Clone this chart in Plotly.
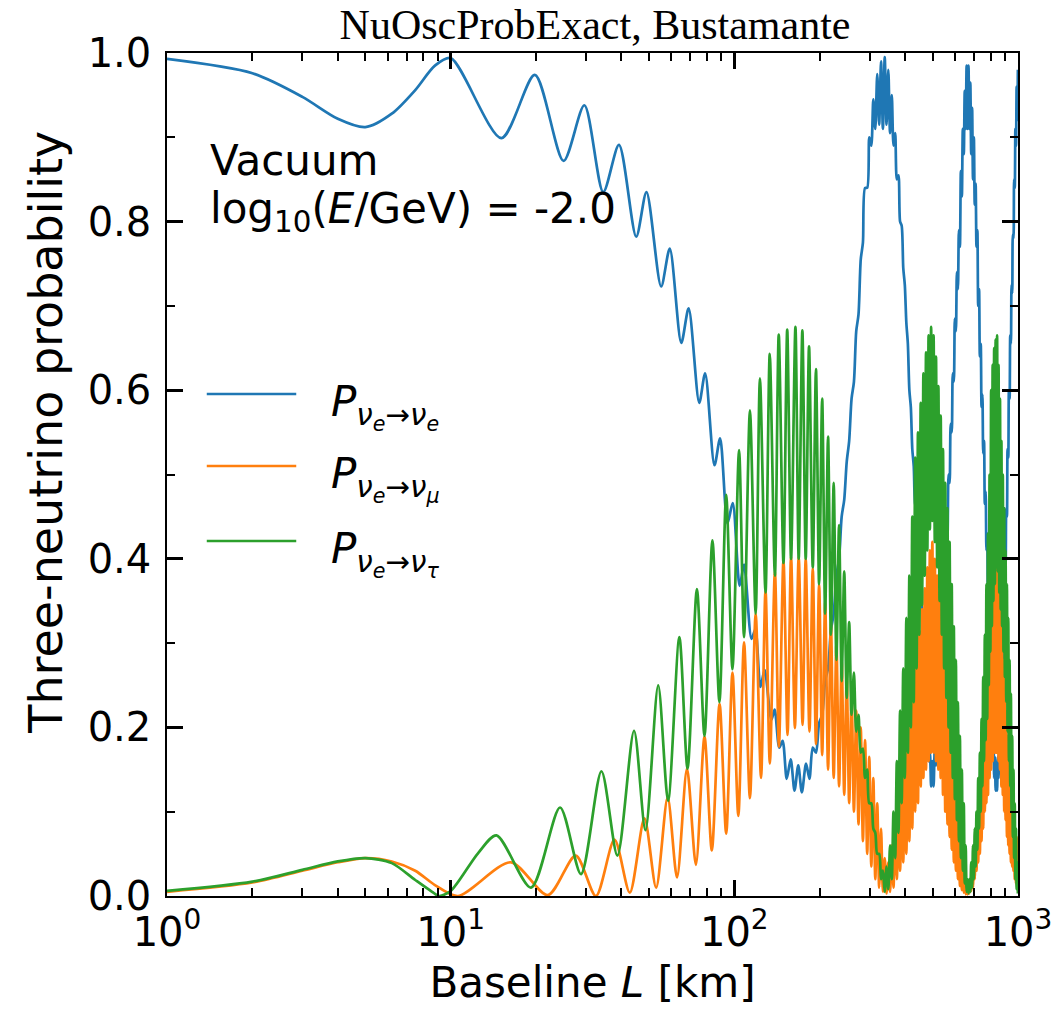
import plotly.graph_objects as go

# ---------------- data ----------------
# Resolved region (individual oscillations visible), baseline L in km
L_ee = [1, 2, 3, 4, 5, 6.2, 7.5, 8.8, 10,
        15.1, 19.8, 25.0, 29.6, 34.5, 39.2, 45.1, 49.0, 55.2, 59.2,
        65.0, 69.0, 75.2, 78.9, 85.1, 89.1, 94.6, 98.7, 104.4, 108.2,
        115, 118.6, 123.6, 127.9, 135, 138.7, 144, 148, 153, 158,
        163, 168, 173, 179, 184]
P_ee = [0.993, 0.976, 0.948, 0.922, 0.912, 0.928, 0.956, 0.985, 0.994,
        0.899, 0.974, 0.872, 0.938, 0.835, 0.891, 0.782, 0.835, 0.723, 0.768,
        0.656, 0.697, 0.585, 0.620, 0.511, 0.543, 0.442, 0.466, 0.368, 0.393,
        0.305, 0.316, 0.248, 0.268, 0.209, 0.221, 0.176, 0.184, 0.139, 0.162,
        0.125, 0.155, 0.123, 0.157, 0.139]

L_emu = [1, 2, 3, 4, 5, 6.2, 7.5, 8.8, 10.6,
         16.3, 22.0, 27.6, 32.5, 37.8, 42.8, 48.2, 53.0, 58.2, 62.8,
         68.1, 73.2, 78.5, 83.3, 88.7, 93.6, 98.5, 103.3, 108.2, 113.5,
         118.9, 124.2, 128.8, 133.4, 139, 143.6, 149, 154, 158.5, 163.5,
         168.6, 174, 178.5, 184]
P_emu = [0.005, 0.016, 0.030, 0.040, 0.045, 0.041, 0.030, 0.013, 0.0,
         0.040, 0.001, 0.048, 0.0, 0.067, 0.004, 0.092, 0.010, 0.117, 0.022,
         0.151, 0.037, 0.189, 0.054, 0.228, 0.074, 0.265, 0.095, 0.301, 0.116,
         0.335, 0.140, 0.363, 0.157, 0.385, 0.177, 0.399, 0.191, 0.403, 0.199,
         0.403, 0.203, 0.401, 0.195]

L_etau = [1, 2, 3, 4, 5, 6.2, 7.5, 8.6, 9.1, 10,
          12.5, 14.5, 19.2, 24.3, 28.8, 34.0, 38.7, 44.3, 48.6, 53.9,
          58.4, 64.0, 68.4, 73.8, 78.5, 83.7, 88.6, 93.6, 98.5, 103.9,
          108.2, 113.5, 118.9, 123.1, 128.8, 133.3, 139, 143.4, 149, 153.6,
          158.5, 164.2, 168.6, 173.7, 178.5, 183.4]
P_etau = [0.006, 0.017, 0.031, 0.041, 0.045, 0.039, 0.019, 0.005, 0.0, 0.006,
          0.051, 0.072, 0.010, 0.105, 0.026, 0.148, 0.048, 0.196, 0.078, 0.250,
          0.113, 0.307, 0.151, 0.364, 0.190, 0.422, 0.230, 0.476, 0.269, 0.529,
          0.307, 0.576, 0.335, 0.614, 0.36, 0.643, 0.38, 0.666, 0.395, 0.672,
          0.40, 0.675, 0.40, 0.671, 0.40, 0.652]

# Dense region: extrema read along the envelopes, two interleaved baselines
L_a = [189, 199, 209, 219, 229, 239, 249, 259, 269, 279,
       289, 299, 309, 319, 329, 339, 349, 359, 369, 379,
       389, 399, 409, 419, 429, 439, 449, 459, 469, 479,
       489, 499, 509, 519, 529, 539, 549, 559, 569, 579,
       589, 599, 609, 619, 629, 639, 649, 659, 669, 679,
       689, 699, 709, 719, 729, 739, 749, 759, 769, 779,
       789, 799, 809, 819, 829, 839, 849, 859, 869, 879,
       889, 899, 909, 919, 929, 939, 949, 959, 969, 979,
       989, 999]
L_b = [194, 204, 214, 224, 234, 244, 254, 264, 274, 284,
       294, 304, 314, 324, 334, 344, 354, 364, 374, 384,
       394, 404, 414, 424, 434, 444, 454, 464, 474, 484,
       494, 504, 514, 524, 534, 544, 554, 564, 574, 584,
       594, 604, 614, 624, 634, 644, 654, 664, 674, 684,
       694, 704, 714, 724, 734, 744, 754, 764, 774, 784,
       794, 804, 814, 824, 834, 844, 854, 864, 874, 884,
       894, 904, 914, 924, 934, 944, 954, 964, 974, 984,
       994]

ee_a = [0.176, 0.205, 0.255, 0.315, 0.38, 0.45, 0.515, 0.59, 0.67, 0.755,
        0.84, 0.90, 0.945, 0.975, 0.99, 0.995, 0.98, 0.95, 0.905, 0.855,
        0.795, 0.725, 0.655, 0.58, 0.51, 0.46, 0.40, 0.34, 0.27, 0.21,
        0.17, 0.16, 0.175, 0.21, 0.26, 0.32, 0.38, 0.44, 0.50, 0.56,
        0.62, 0.685, 0.74, 0.79, 0.86, 0.91, 0.955, 0.985, 0.985, 0.965,
        0.935, 0.90, 0.845, 0.79, 0.72, 0.655, 0.595, 0.54, 0.48, 0.43,
        0.37, 0.31, 0.25, 0.20, 0.165, 0.155, 0.165, 0.19, 0.23, 0.28,
        0.34, 0.40, 0.46, 0.53, 0.60, 0.665, 0.725, 0.785, 0.85, 0.91,
        0.96, 0.98]
ee_b = [0.17, 0.215, 0.27, 0.335, 0.40, 0.47, 0.54, 0.61, 0.69, 0.775,
        0.84, 0.89, 0.91, 0.915, 0.91, 0.915, 0.905, 0.89, 0.85, 0.80,
        0.745, 0.68, 0.60, 0.53, 0.465, 0.41, 0.35, 0.28, 0.21, 0.16,
        0.13, 0.13, 0.155, 0.19, 0.245, 0.305, 0.365, 0.425, 0.49, 0.55,
        0.61, 0.67, 0.72, 0.77, 0.83, 0.88, 0.91, 0.91, 0.91, 0.88,
        0.85, 0.82, 0.77, 0.70, 0.64, 0.58, 0.525, 0.465, 0.41, 0.35,
        0.29, 0.23, 0.18, 0.14, 0.125, 0.125, 0.14, 0.18, 0.22, 0.27,
        0.33, 0.39, 0.45, 0.52, 0.59, 0.655, 0.715, 0.78, 0.84, 0.89,
        0.92]

emu_a = [0.389, 0.37, 0.35, 0.325, 0.30, 0.28, 0.26, 0.24, 0.22, 0.20,
         0.185, 0.165, 0.14, 0.11, 0.08, 0.045, 0.04, 0.06, 0.09, 0.11,
         0.14, 0.17, 0.20, 0.23, 0.26, 0.29, 0.315, 0.34, 0.365, 0.39,
         0.41, 0.42, 0.40, 0.38, 0.36, 0.33, 0.30, 0.27, 0.24, 0.21,
         0.18, 0.16, 0.13, 0.10, 0.08, 0.05, 0.03, 0.01, 0.01, 0.02,
         0.04, 0.06, 0.08, 0.10, 0.13, 0.16, 0.19, 0.22, 0.26, 0.29,
         0.32, 0.35, 0.37, 0.39, 0.40, 0.41, 0.40, 0.37, 0.34, 0.31,
         0.28, 0.25, 0.22, 0.19, 0.16, 0.14, 0.12, 0.10, 0.09, 0.08,
         0.07, 0.06]
emu_b = [0.18, 0.167, 0.15, 0.14, 0.13, 0.12, 0.11, 0.10, 0.085, 0.065,
         0.05, 0.035, 0.02, 0.01, 0.005, 0.003, 0.005, 0.01, 0.02, 0.03,
         0.04, 0.05, 0.065, 0.08, 0.10, 0.11, 0.13, 0.14, 0.15, 0.16,
         0.17, 0.17, 0.16, 0.15, 0.14, 0.12, 0.10, 0.085, 0.07, 0.055,
         0.04, 0.03, 0.02, 0.012, 0.007, 0.004, 0.002, 0.002, 0.003, 0.006,
         0.01, 0.02, 0.03, 0.04, 0.05, 0.065, 0.08, 0.10, 0.11, 0.12,
         0.14, 0.15, 0.16, 0.17, 0.17, 0.17, 0.16, 0.15, 0.13, 0.12,
         0.10, 0.09, 0.07, 0.06, 0.05, 0.04, 0.035, 0.03, 0.02, 0.015,
         0.01]

etau_a = [0.39, 0.37, 0.335, 0.31, 0.28, 0.255, 0.235, 0.215, 0.195, 0.17,
          0.14, 0.11, 0.08, 0.05, 0.02, 0.005, 0.008, 0.02, 0.045, 0.075,
          0.11, 0.14, 0.17, 0.20, 0.23, 0.27, 0.31, 0.345, 0.38, 0.41,
          0.435, 0.445, 0.42, 0.39, 0.35, 0.31, 0.27, 0.235, 0.20, 0.17,
          0.14, 0.115, 0.09, 0.065, 0.045, 0.03, 0.015, 0.005, 0.003, 0.005,
          0.01, 0.02, 0.035, 0.055, 0.08, 0.10, 0.13, 0.16, 0.185, 0.21,
          0.25, 0.29, 0.32, 0.35, 0.37, 0.39, 0.385, 0.36, 0.34, 0.32,
          0.29, 0.26, 0.23, 0.195, 0.16, 0.13, 0.10, 0.07, 0.045, 0.02,
          0.008, 0.003]
etau_b = [0.625, 0.59, 0.545, 0.49, 0.44, 0.385, 0.325, 0.265, 0.215, 0.175,
          0.15, 0.11, 0.075, 0.05, 0.03, 0.035, 0.06, 0.10, 0.16, 0.22,
          0.27, 0.33, 0.38, 0.45, 0.52, 0.55, 0.585, 0.62, 0.645, 0.665,
          0.675, 0.665, 0.64, 0.605, 0.57, 0.53, 0.49, 0.46, 0.42, 0.37,
          0.32, 0.28, 0.23, 0.19, 0.15, 0.11, 0.06, 0.02, 0.02, 0.04,
          0.06, 0.08, 0.10, 0.14, 0.17, 0.21, 0.26, 0.31, 0.37, 0.43,
          0.50, 0.60, 0.63, 0.65, 0.66, 0.665, 0.63, 0.59, 0.54, 0.50,
          0.46, 0.41, 0.37, 0.33, 0.28, 0.24, 0.19, 0.15, 0.11, 0.08,
          0.04]

names = ["ee", "emu", "etau"]
colors = ["#1f77b4", "#ff7f0e", "#2ca02c"]
legend_labels = [
    "<i>P</i><sub><i>ν</i><sub><i>e</i></sub>→<i>ν</i><sub><i>e</i></sub></sub>",
    "<i>P</i><sub><i>ν</i><sub><i>e</i></sub>→<i>ν</i><sub><i>μ</i></sub></sub>",
    "<i>P</i><sub><i>ν</i><sub><i>e</i></sub>→<i>ν</i><sub><i>τ</i></sub></sub>",
]
x_tick_vals = [1, 10, 100, 1000]
x_tick_text = ["10<sup>0</sup>", "10<sup>1</sup>", "10<sup>2</sup>", "10<sup>3</sup>"]


def assemble(L_res, P_res, va, vb):
    pts = list(zip(L_res, P_res)) + list(zip(L_a, va)) + list(zip(L_b, vb))
    pts.sort(key=lambda p: p[0])
    return [p[0] for p in pts], [p[1] for p in pts]


series = [
    assemble(L_ee, P_ee, ee_a, ee_b),
    assemble(L_emu, P_emu, emu_a, emu_b),
    assemble(L_etau, P_etau, etau_a, etau_b),
]

fig = go.Figure()
for (xs, ys), c, n in zip(series, colors, names):
    fig.add_trace(go.Scatter(x=xs, y=ys, mode="lines", name=n,
                             line=dict(color=c, width=2.7, shape="spline", smoothing=0.8),
                             showlegend=False))

FONT = "DejaVu Sans"
W, H = 1064, 1017
L0, R0, T0, B0 = 167, 1023, 53, 896
pw, ph = R0 - L0, B0 - T0


def px(x):
    return (x - L0) / pw


def py(y):
    return (B0 - y) / ph


minor_x = [m * 10 ** e for e in range(3) for m in range(2, 10)]

fig.update_layout(
    width=W, height=H,
    margin=dict(l=L0, r=W - R0, t=T0, b=H - B0),
    plot_bgcolor="white", paper_bgcolor="white",
    showlegend=False,
    title=dict(text="NuOscProbExact, Bustamante", x=(L0 + R0) / 2 / W, xanchor="center",
               y=1 - 24 / H, yanchor="middle",
               font=dict(family="Liberation Serif", size=42, color="black")),
    xaxis=dict(type="log", range=[0, 3], tickvals=x_tick_vals, ticktext=x_tick_text,
               ticks="inside", ticklen=16, tickwidth=2.5, tickcolor="black",
               showline=True, linecolor="black", linewidth=1.5, mirror="allticks",
               showgrid=False, zeroline=False,
               tickfont=dict(family=FONT, size=40, color="black"),
               minor=dict(tickvals=minor_x, ticks="inside", ticklen=8, tickwidth=1.5,
                          tickcolor="black", showgrid=False),
               title=dict(text="Baseline <i>L</i> [km]", standoff=14,
                          font=dict(family=FONT, size=42, color="black"))),
    yaxis=dict(range=[0, 1], tickvals=[0, 0.2, 0.4, 0.6, 0.8, 1.0], tickformat=".1f",
               ticks="inside", ticklen=16, tickwidth=2.5, tickcolor="black",
               showline=True, linecolor="black", linewidth=1.5, mirror="allticks",
               showgrid=False, zeroline=False, ticklabelstandoff=6,
               tickfont=dict(family=FONT, size=40, color="black"),
               minor=dict(dtick=0.1, ticks="inside", ticklen=8, tickwidth=1.5,
                          tickcolor="black", showgrid=False)),
)

# y-axis title placed as in the reference
fig.add_annotation(xref="paper", yref="paper", x=px(45), y=py(432), xanchor="center",
                   yanchor="middle", showarrow=False, textangle=-90,
                   text="Three-neutrino probability",
                   font=dict(family=FONT, size=46, color="black"))

# text box in the upper-left of the axes
fig.add_annotation(xref="paper", yref="paper", x=px(208), y=py(160), xanchor="left",
                   yanchor="middle", showarrow=False, text="Vacuum",
                   font=dict(family=FONT, size=42, color="black"))
fig.add_annotation(xref="paper", yref="paper", x=px(208), y=py(212), xanchor="left",
                   yanchor="middle", showarrow=False,
                   text="log<sub>10</sub>(<i>E</i>/GeV) = -2.0",
                   font=dict(family=FONT, size=42, color="black"))

# legend drawn inside the axes
leg_y = [394, 466, 541]
for yy, c, lab in zip(leg_y, colors, legend_labels):
    fig.add_shape(type="line", xref="paper", yref="paper", x0=px(207), x1=px(297),
                  y0=py(yy), y1=py(yy), line=dict(color=c, width=2.7))
    fig.add_annotation(xref="paper", yref="paper", x=px(330), y=py(yy + 12), xanchor="left",
                       yanchor="middle", showarrow=False, text=lab,
                       font=dict(family=FONT, size=42, color="black"))

fig.write_html("out.html")
